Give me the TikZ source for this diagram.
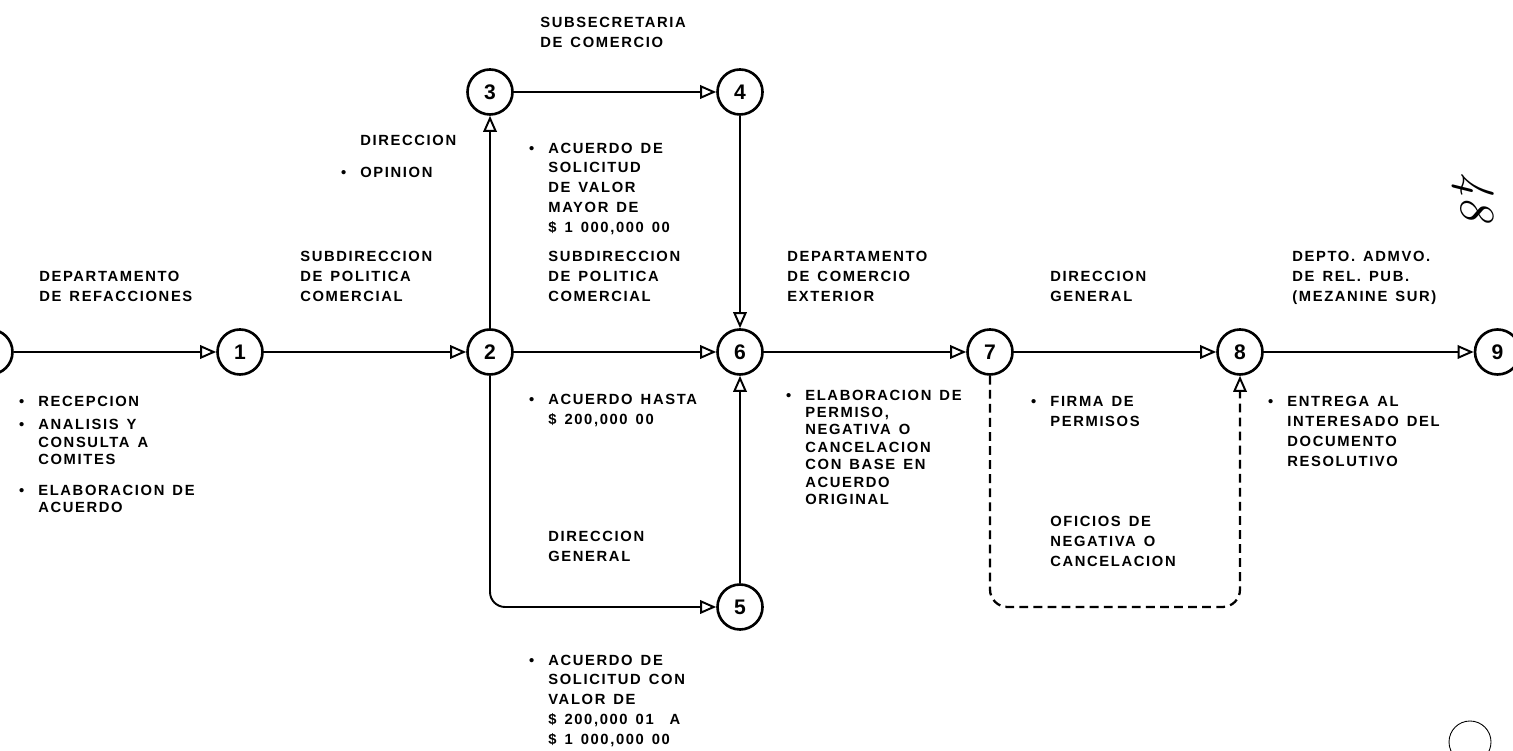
\documentclass[tikz,border=0pt]{standalone}
\usepackage{fontspec}
\usetikzlibrary{shapes.geometric, arrows.meta, positioning}
\newfontfamily\flowfont[LetterSpace=11, WordSpace=1.4]{Liberation Sans}
\newcommand{\bul}{\llap{\textbullet\hspace{8pt}}}

\tikzstyle{stage} = [circle, draw=black, line width=1.5pt, minimum size=0.9cm, inner sep=0pt, font=\flowfont\bfseries\large]
\tikzstyle{flow} = [line width=1.5pt, -{Triangle[open, length=0.32cm, width=0.27cm, line width=1.1pt]}]
\tikzstyle{link} = [line width=0.9pt, -{Triangle[open, length=0.32cm, width=0.27cm, line width=1.1pt]}]
\tikzstyle{back} = [line width=1.3pt, dash pattern=on 5pt off 3pt, rounded corners=0.35cm, -{Triangle[open, length=0.32cm, width=0.27cm, line width=1.1pt]}]
\tikzstyle{txt} = [anchor=base west, align=left, inner sep=0pt, font=\flowfont\bfseries\fontsize{8.4}{11.3}\selectfont]
\tikzstyle{tight} = [font=\flowfont\bfseries\fontsize{8.4}{9.9}\selectfont]

\begin{document}
\begin{tikzpicture}[node distance=5cm]
\useasboundingbox (0,-7.98) rectangle (30.26,7.04);

% stages
\node (n1) [stage] at (4.8,0) {1};
\node (n0) [stage, left of=n1] {};
\node (n2) [stage, right of=n1] {2};
\node (n6) [stage, right of=n2] {6};
\node (n7) [stage, right of=n6] {7};
\node (n8) [stage, right of=n7] {8};
\node (n9) [stage, right of=n8, xshift=0.15cm] {9};
\node (n3) [stage, above of=n2, yshift=0.2cm] {3};
\node (n4) [stage, right of=n3] {4};
\node (n5) [stage, below of=n6, yshift=-0.1cm] {5};

% main line
\draw [flow] (n0) -- (n1);
\draw [flow] (n1) -- (n2);
\draw [flow] (n2) -- (n6);
\draw [flow] (n6) -- (n7);
\draw [flow] (n7) -- (n8);
\draw [flow] (n8) -- (n9);
% branches
\draw [link] (n2) -- (n3);
\draw [flow] (n3) -- (n4);
\draw [link] (n4) -- (n6);
\draw [flow, line width=1.1pt, rounded corners=0.3cm] (n2) |- (n5);
\draw [link] (n5) -- (n6);
\draw [back] (n7) -- (n7 |- n5) -| (n8);

% offices (base = last line)
\node (refac) [txt] at (0.78,1.01) {DEPARTAMENTO\\DE REFACCIONES};
\node (polcom1) [txt] at (6.0,1.01) {SUBDIRECCION\\DE POLITICA\\COMERCIAL};
\node (subsec) [txt] at (10.8,6.09) {SUBSECRETARIA\\DE COMERCIO};
\node (direc) [txt] at (7.2,4.13) {DIRECCION};
\node (polcom2) [txt] at (10.96,1.01) {SUBDIRECCION\\DE POLITICA\\COMERCIAL};
\node (dirgen1) [txt] at (10.96,-4.19) {DIRECCION\\GENERAL};
\node (comext) [txt] at (15.74,1.01) {DEPARTAMENTO\\DE COMERCIO\\EXTERIOR};
\node (dirgen2) [txt] at (21.0,1.01) {DIRECCION\\GENERAL};
\node (depto) [txt] at (25.84,1.01) {DEPTO. ADMVO.\\DE REL. PUB.\\(MEZANINE SUR)};

% tasks
\node (recep) [txt] at (0.76,-1.09) {\bul RECEPCION};
\node (anal) [txt, tight] at (0.76,-2.25) {\bul ANALISIS Y\\CONSULTA A\\COMITES};
\node (elabac) [txt, tight] at (0.76,-3.21) {\bul ELABORACION DE\\ACUERDO};
\node (opin) [txt] at (7.2,3.49) {\bul OPINION};
\node (mayor) [txt] at (10.96,2.39) {\bul ACUERDO DE\\SOLICITUD\\DE VALOR\\MAYOR DE\\\$ 1 000,000 00};
\node (hasta) [txt] at (10.96,-1.45) {\bul ACUERDO HASTA\\\$ 200,000 00};
\node (menor) [txt] at (10.96,-7.85) {\bul ACUERDO DE\\SOLICITUD CON\\VALOR DE\\\$ 200,000 01\ \ A\\\$ 1 000,000 00};
\node (elab) [txt, tight] at (16.1,-3.05) {\bul ELABORACION DE\\PERMISO,\\NEGATIVA O\\CANCELACION\\CON BASE EN\\ACUERDO\\ORIGINAL};
\node (firma) [txt] at (21.0,-1.49) {\bul FIRMA DE\\PERMISOS};
\node (oficios) [txt] at (21.0,-4.29) {OFICIOS DE\\NEGATIVA O\\CANCELACION};
\node (entrega) [txt] at (25.74,-2.29) {\bul ENTREGA AL\\INTERESADO DEL\\DOCUMENTO\\RESOLUTIVO};

% folio
\node (folio) [rotate=-90, font=\fontsize{28}{28}\selectfont\itshape] at (29.46,3.1) {48};
\draw [line width=0.5pt] (29.4,-7.8) circle (0.42);
\end{tikzpicture}
\end{document}
